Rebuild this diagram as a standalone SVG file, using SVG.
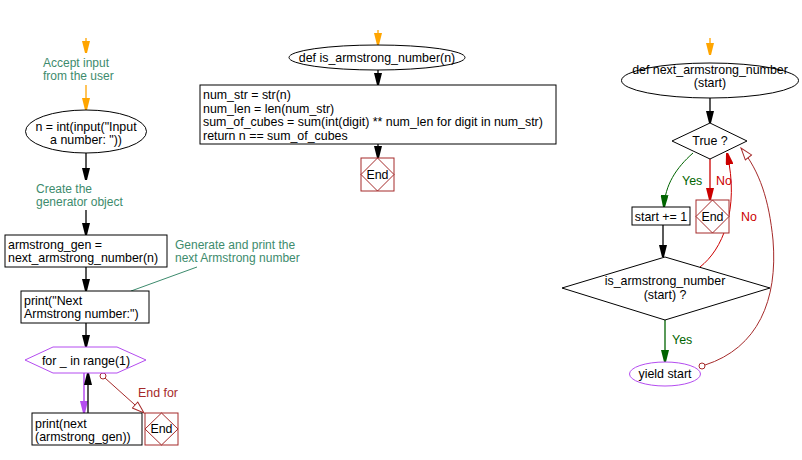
<svg xmlns="http://www.w3.org/2000/svg" width="802" height="460" viewBox="0 0 802 460">
<style>
text{font-family:"Liberation Sans",Arial,sans-serif;font-size:12.4px;fill:#000}
.c{text-anchor:middle}
.note{fill:#3d8b6d;font-size:12px}
.red{fill:#cc0000}
.dred{fill:#a52a2a}
.grn{fill:#006400}
.n{fill:#fff;stroke:#000;stroke-width:1}
.end{fill:#fff;stroke:#a52a2a;stroke-width:1}
.lk{fill:none;stroke:#000;stroke-width:1.3}
</style>
<defs>
<marker id="ak" viewBox="0 0 12 8" refX="12" refY="4" markerWidth="12" markerHeight="8" orient="auto" markerUnits="userSpaceOnUse"><path d="M0,0 L12,3 L12,5 L0,8 Z" fill="#000"/></marker>
<marker id="ao" viewBox="0 0 12 8" refX="12" refY="4" markerWidth="12" markerHeight="8" orient="auto" markerUnits="userSpaceOnUse"><path d="M0,0 L12,3 L12,5 L0,8 Z" fill="#ffa500"/></marker>
<marker id="ag" viewBox="0 0 12 8" refX="12" refY="4" markerWidth="12" markerHeight="8" orient="auto" markerUnits="userSpaceOnUse"><path d="M0,0 L12,3 L12,5 L0,8 Z" fill="#006400"/></marker>
<marker id="ar" viewBox="0 0 12 8" refX="12" refY="4" markerWidth="12" markerHeight="8" orient="auto" markerUnits="userSpaceOnUse"><path d="M0,0 L12,3 L12,5 L0,8 Z" fill="#cc0000"/></marker>
<marker id="ap" viewBox="0 0 12 8" refX="12" refY="4" markerWidth="12" markerHeight="8" orient="auto" markerUnits="userSpaceOnUse"><path d="M0,0 L12,3 L12,5 L0,8 Z" fill="#b44cf0"/></marker>
<marker id="ah" viewBox="0 0 14 10" refX="13" refY="5" markerWidth="14" markerHeight="10" orient="auto" markerUnits="userSpaceOnUse"><path d="M1,1 L13,5 L1,9 Z" fill="#fff" stroke="#a52a2a" stroke-width="1"/></marker>
</defs>

<g id="connectors">
<line x1="86" y1="38" x2="86" y2="53" stroke="#ffa500" stroke-width="1.3" marker-end="url(#ao)"/>
<line x1="86" y1="85" x2="86" y2="110" stroke="#ffa500" stroke-width="1.3" marker-end="url(#ao)"/>
<line class="lk" x1="86" y1="153" x2="86" y2="180" marker-end="url(#ak)"/>
<line class="lk" x1="86" y1="210" x2="86" y2="235" marker-end="url(#ak)"/>
<line class="lk" x1="86" y1="267" x2="86" y2="291" marker-end="url(#ak)"/>
<line x1="197" y1="267" x2="131" y2="291" stroke="#3d8b6d" stroke-width="1"/>
<line class="lk" x1="86" y1="323" x2="86" y2="347" marker-end="url(#ak)"/>
<line x1="84" y1="373" x2="84" y2="413" stroke="#b44cf0" stroke-width="1.5" marker-end="url(#ap)"/>
<line class="lk" x1="88" y1="413" x2="88" y2="373" marker-end="url(#ak)"/>
<line x1="105" y1="378" x2="144" y2="413" stroke="#a52a2a" stroke-width="1" marker-end="url(#ah)"/>
<circle cx="103" cy="376" r="3" fill="#fff" stroke="#a52a2a" stroke-width="1"/>

<line x1="378" y1="30" x2="378" y2="45" stroke="#ffa500" stroke-width="1.3" marker-end="url(#ao)"/>
<line class="lk" x1="378" y1="70" x2="378" y2="85" marker-end="url(#ak)"/>
<line class="lk" x1="378" y1="144" x2="378" y2="158" marker-end="url(#ak)"/>

<line x1="710" y1="38" x2="710" y2="55" stroke="#ffa500" stroke-width="1.3" marker-end="url(#ao)"/>
<line class="lk" x1="710" y1="98" x2="710" y2="123" marker-end="url(#ak)"/>
<path d="M693,153 C676,168 665,185 664,207" fill="none" stroke="#006400" stroke-width="1" marker-end="url(#ag)"/>
<line x1="710" y1="159" x2="710" y2="200" stroke="#cc0000" stroke-width="1.3" marker-end="url(#ar)"/>
<line class="lk" x1="663" y1="225" x2="663" y2="257" marker-end="url(#ak)"/>
<path d="M700,267 C722,250 740,210 727,153" fill="none" stroke="#cc0000" stroke-width="1" marker-end="url(#ar)"/>
<line x1="665" y1="320" x2="665" y2="362" stroke="#006400" stroke-width="1.3" marker-end="url(#ag)"/>
<path d="M705,365 C758,348 778,300 773,240 C769,200 760,172 741,148" fill="none" stroke="#a52a2a" stroke-width="1" marker-end="url(#ah)"/>
<circle cx="702" cy="366" r="3" fill="#fff" stroke="#a52a2a" stroke-width="1"/>
</g>

<g id="note1"><text class="note" x="43" y="67">Accept input</text><text class="note" x="43" y="80">from the user</text></g>
<g id="input"><ellipse class="n" cx="86" cy="131.5" rx="60.5" ry="21.5"/><text class="c" x="86" y="131">n = int(input("Input</text><text class="c" x="86" y="144">a number: "))</text></g>
<g id="note2"><text class="note" x="36" y="193">Create the</text><text class="note" x="36" y="206">generator object</text></g>
<g id="gen"><rect class="n" x="5" y="235" width="162" height="32"/><text x="8" y="249">armstrong_gen =</text><text x="8" y="262">next_armstrong_number(n)</text></g>
<g id="note3"><text class="note" x="175" y="249">Generate and print the</text><text class="note" x="175" y="262">next Armstrong number</text></g>
<g id="printhdr"><rect class="n" x="21" y="291" width="128" height="32"/><text x="24" y="305">print("Next</text><text x="24" y="318">Armstrong number:")</text></g>
<g id="loop"><polygon points="25,360 53,347 117,347 146,360 117,373 53,373" fill="#fff" stroke="#b44cf0" stroke-width="1"/><text class="c" x="86" y="365">for _ in range(1)</text></g>
<g id="printnext"><rect class="n" x="32" y="413" width="110" height="32"/><text x="35" y="428">print(next</text><text x="35" y="441">(armstrong_gen))</text></g>
<g id="endfor-label"><text class="dred" x="138" y="397">End for</text></g>
<g id="end1"><rect class="end" x="145" y="413" width="33" height="32"/><polygon points="161.5,413 178,429 161.5,445 145,429" fill="none" stroke="#a52a2a"/><text class="c" x="161.5" y="433">End</text></g>

<g id="defis"><ellipse class="n" cx="377" cy="57.5" rx="88" ry="12.5"/><text class="c" x="377" y="62">def is_armstrong_number(n)</text></g>
<g id="body"><rect class="n" x="200" y="85" width="356" height="59"/><text x="203" y="99">num_str = str(n)</text><text x="203" y="113">num_len = len(num_str)</text><text x="203" y="126">sum_of_cubes = sum(int(digit) ** num_len for digit in num_str)</text><text x="203" y="140">return n == sum_of_cubes</text></g>
<g id="end2"><rect class="end" x="361" y="158" width="33" height="33"/><polygon points="377.5,158 394,174.5 377.5,191 361,174.5" fill="none" stroke="#a52a2a"/><text class="c" x="377.5" y="179">End</text></g>

<g id="defnext"><ellipse class="n" cx="710" cy="80.5" rx="88.5" ry="17.5"/><text class="c" x="710" y="74">def next_armstrong_number</text><text class="c" x="710" y="87">(start)</text></g>
<g id="true"><polygon class="n" points="710,123 747,141 710,159 672,141"/><text class="c" x="710" y="145">True ?</text></g>
<g id="labels"><text class="grn" x="682" y="185">Yes</text><text class="red" x="716" y="185">No</text><text class="red" x="741" y="221">No</text><text class="grn" x="672" y="344">Yes</text></g>
<g id="inc"><rect class="n" x="632" y="207" width="58" height="18"/><text class="c" x="661" y="221">start += 1</text></g>
<g id="end3"><rect class="end" x="696" y="200" width="33" height="33"/><polygon points="712.5,200 729,216.5 712.5,233 696,216.5" fill="none" stroke="#a52a2a"/><text class="c" x="712.5" y="221">End</text></g>
<g id="isarm"><polygon class="n" points="665,257 770,288 665,320 562,288"/><text class="c" x="665" y="285">is_armstrong_number</text><text class="c" x="665" y="298.5">(start) ?</text></g>
<g id="yield"><ellipse cx="665" cy="374" rx="35.5" ry="12" fill="#fff" stroke="#b44cf0" stroke-width="1"/><text class="c" x="665" y="378">yield start</text></g>
</svg>
